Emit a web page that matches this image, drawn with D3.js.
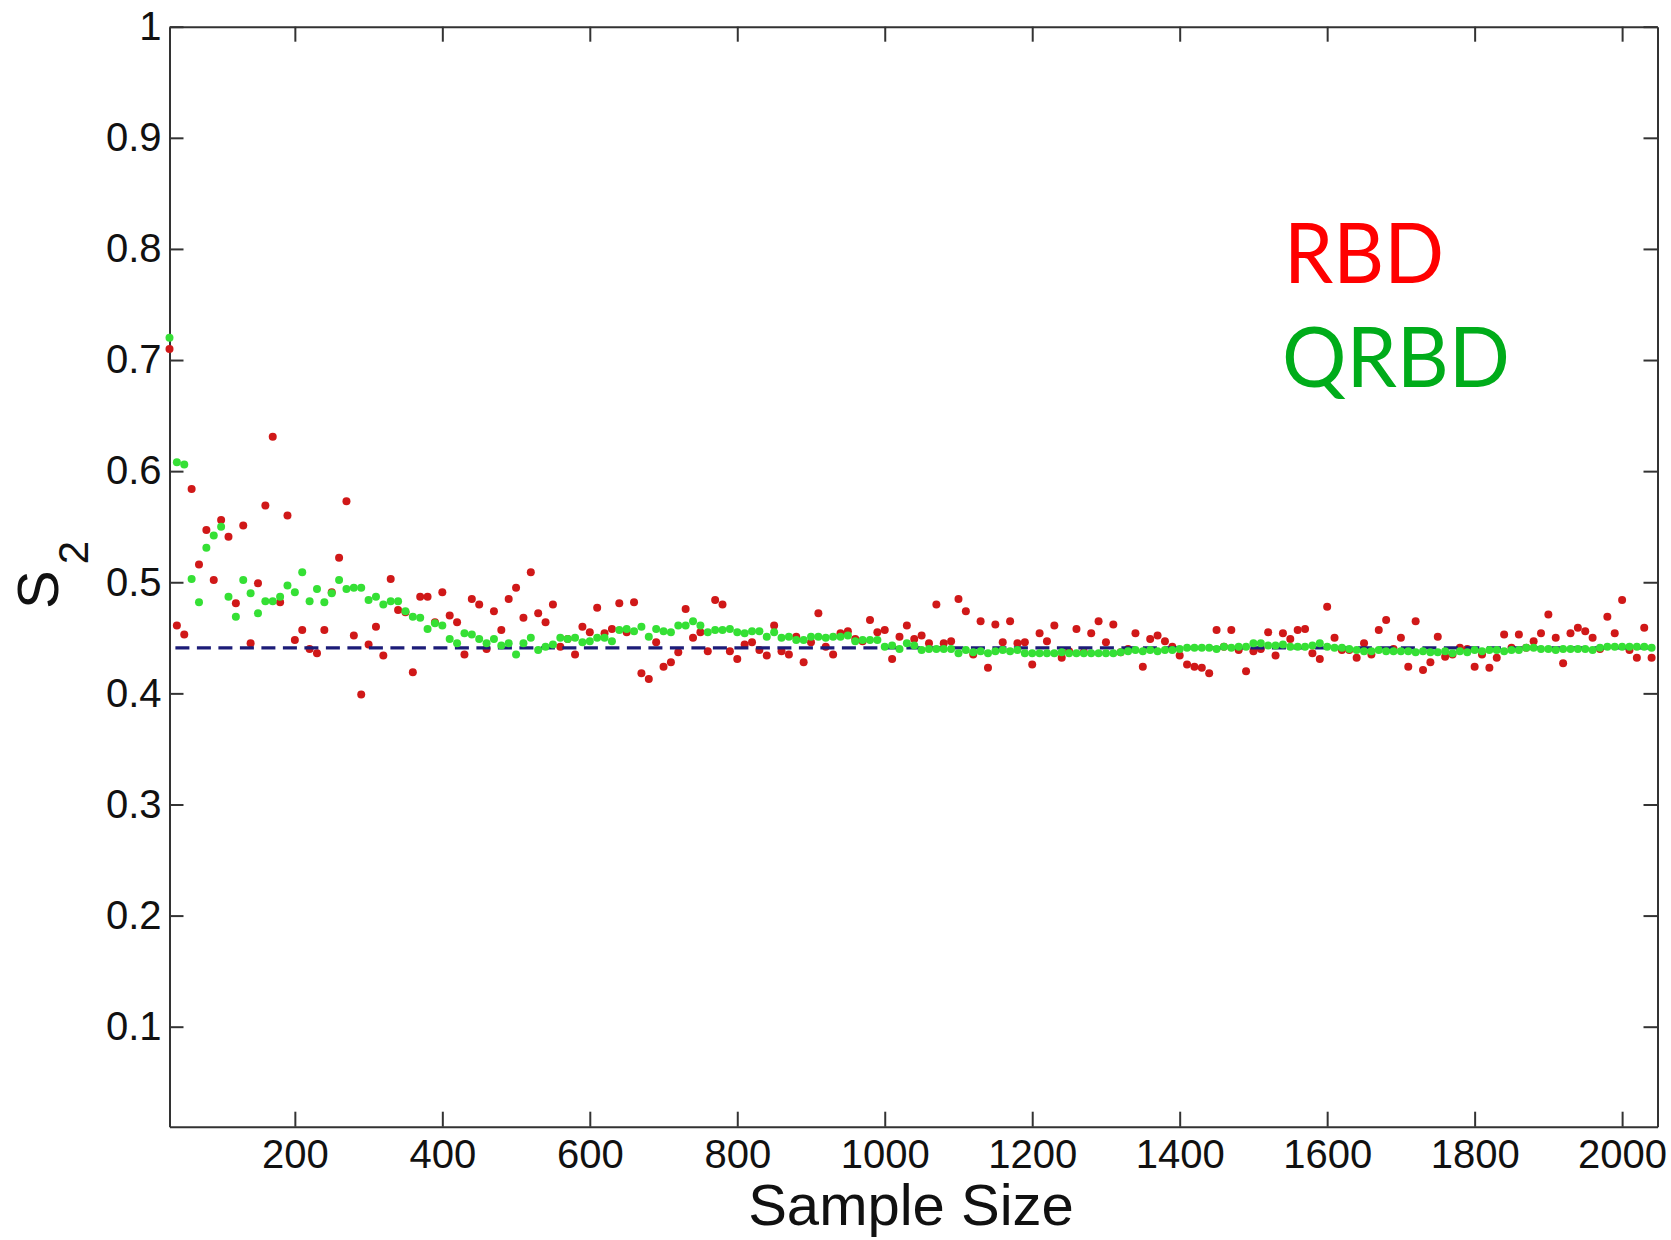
<!DOCTYPE html>
<html>
<head>
<meta charset="utf-8">
<script src="https://cdn.jsdelivr.net/npm/d3@7"></script>
<style>
    body { margin: 0; background: #fff; }
    .axis path, .axis line { stroke: #333; stroke-width: 2; }
    .axis text { font-family: "Liberation Sans", Arial, sans-serif; font-size: 40px; fill: #111; }
    .title { font-family: "Liberation Sans", Arial, sans-serif; fill: #111; }
    .legend { font-family: Lato, "Open Sans", sans-serif; }
</style>
</head>
<body>
<svg id="chart" width="1671" height="1240"></svg>
<script>
// sample sizes on the x axis
const sampleSize = [
    30, 40, 50, 60, 70, 80, 90, 100, 110, 120, 130, 140, 150, 160, 170, 180, 190, 200, 210, 220,
    230, 240, 250, 260, 270, 280, 290, 300, 310, 320, 330, 340, 350, 360, 370, 380, 390, 400, 410, 420,
    430, 440, 450, 460, 470, 480, 490, 500, 510, 520, 530, 540, 550, 560, 570, 580, 590, 600, 610, 620,
    630, 640, 650, 660, 670, 680, 690, 700, 710, 720, 730, 740, 750, 760, 770, 780, 790, 800, 810, 820,
    830, 840, 850, 860, 870, 880, 890, 900, 910, 920, 930, 940, 950, 960, 970, 980, 990, 1000, 1010, 1020,
    1030, 1040, 1050, 1060, 1070, 1080, 1090, 1100, 1110, 1120, 1130, 1140, 1150, 1160, 1170, 1180, 1190, 1200, 1210, 1220,
    1230, 1240, 1250, 1260, 1270, 1280, 1290, 1300, 1310, 1320, 1330, 1340, 1350, 1360, 1370, 1380, 1390, 1400, 1410, 1420,
    1430, 1440, 1450, 1460, 1470, 1480, 1490, 1500, 1510, 1520, 1530, 1540, 1550, 1560, 1570, 1580, 1590, 1600, 1610, 1620,
    1630, 1640, 1650, 1660, 1670, 1680, 1690, 1700, 1710, 1720, 1730, 1740, 1750, 1760, 1770, 1780, 1790, 1800, 1810, 1820,
    1830, 1840, 1850, 1860, 1870, 1880, 1890, 1900, 1910, 1920, 1930, 1940, 1950, 1960, 1970, 1980, 1990, 2000, 2010, 2020,
    2030, 2040
];

// S2 estimates, random balance design (red)
const rbd = [
    0.710, 0.461, 0.453, 0.584, 0.516, 0.547, 0.502, 0.556, 0.541, 0.481,
    0.551, 0.445, 0.499, 0.569, 0.631, 0.482, 0.560, 0.448, 0.457, 0.440,
    0.436, 0.457, 0.491, 0.522, 0.573, 0.452, 0.399, 0.444, 0.460, 0.434,
    0.503, 0.475, 0.473, 0.419, 0.487, 0.487, 0.464, 0.491, 0.470, 0.464,
    0.435, 0.485, 0.480, 0.440, 0.474, 0.457, 0.485, 0.495, 0.468, 0.509,
    0.472, 0.464, 0.480, 0.442, 0.449, 0.435, 0.460, 0.455, 0.477, 0.454,
    0.458, 0.481, 0.455, 0.482, 0.418, 0.413, 0.446, 0.424, 0.428, 0.437,
    0.476, 0.450, 0.455, 0.438, 0.484, 0.480, 0.438, 0.431, 0.444, 0.446,
    0.439, 0.434, 0.461, 0.438, 0.435, 0.451, 0.428, 0.446, 0.472, 0.442,
    0.435, 0.454, 0.456, 0.449, 0.447, 0.466, 0.455, 0.457, 0.431, 0.451,
    0.461, 0.449, 0.452, 0.445, 0.480, 0.445, 0.447, 0.485, 0.474, 0.435,
    0.465, 0.423, 0.462, 0.446, 0.465, 0.445, 0.446, 0.426, 0.454, 0.447,
    0.461, 0.432, 0.438, 0.458, 0.437, 0.454, 0.465, 0.446, 0.462, 0.437,
    0.440, 0.454, 0.424, 0.449, 0.452, 0.447, 0.442, 0.434, 0.426, 0.424,
    0.423, 0.418, 0.457, 0.442, 0.457, 0.439, 0.420, 0.438, 0.440, 0.455,
    0.434, 0.454, 0.449, 0.457, 0.458, 0.436, 0.431, 0.478, 0.450, 0.439,
    0.439, 0.432, 0.445, 0.435, 0.457, 0.466, 0.440, 0.450, 0.424, 0.465,
    0.421, 0.428, 0.451, 0.433, 0.435, 0.441, 0.440, 0.424, 0.435, 0.423,
    0.432, 0.453, 0.441, 0.453, 0.441, 0.447, 0.454, 0.471, 0.450, 0.427,
    0.454, 0.459, 0.456, 0.450, 0.440, 0.469, 0.454, 0.484, 0.439, 0.432,
    0.459, 0.432
];

// S2 estimates, quasi-random balance design (green)
const qrbd = [
    0.720, 0.608, 0.606, 0.503, 0.482, 0.531, 0.542, 0.550, 0.487, 0.469,
    0.502, 0.490, 0.472, 0.483, 0.483, 0.487, 0.497, 0.491, 0.509, 0.483,
    0.494, 0.482, 0.490, 0.502, 0.494, 0.495, 0.495, 0.484, 0.487, 0.480,
    0.483, 0.483, 0.474, 0.469, 0.468, 0.458, 0.463, 0.461, 0.449, 0.445,
    0.454, 0.453, 0.449, 0.445, 0.449, 0.443, 0.445, 0.435, 0.445, 0.450,
    0.439, 0.442, 0.444, 0.450, 0.449, 0.450, 0.446, 0.447, 0.450, 0.450,
    0.447, 0.457, 0.458, 0.456, 0.460, 0.451, 0.458, 0.456, 0.455, 0.461,
    0.461, 0.465, 0.461, 0.455, 0.457, 0.457, 0.458, 0.455, 0.454, 0.456,
    0.456, 0.451, 0.455, 0.450, 0.451, 0.448, 0.448, 0.451, 0.451, 0.450,
    0.451, 0.451, 0.452, 0.447, 0.448, 0.448, 0.448, 0.442, 0.443, 0.440,
    0.445, 0.443, 0.439, 0.440, 0.440, 0.440, 0.440, 0.436, 0.439, 0.437,
    0.438, 0.436, 0.438, 0.439, 0.438, 0.439, 0.436, 0.436, 0.436, 0.436,
    0.436, 0.437, 0.436, 0.436, 0.436, 0.436, 0.436, 0.436, 0.436, 0.437,
    0.438, 0.439, 0.438, 0.439, 0.438, 0.439, 0.439, 0.440, 0.441, 0.441,
    0.441, 0.441, 0.440, 0.442, 0.441, 0.442, 0.442, 0.445, 0.445, 0.443,
    0.443, 0.444, 0.442, 0.442, 0.442, 0.443, 0.445, 0.442, 0.441, 0.441,
    0.440, 0.439, 0.438, 0.438, 0.439, 0.438, 0.438, 0.438, 0.438, 0.437,
    0.438, 0.437, 0.437, 0.438, 0.436, 0.438, 0.437, 0.439, 0.438, 0.439,
    0.439, 0.438, 0.439, 0.439, 0.441, 0.441, 0.440, 0.440, 0.439, 0.440,
    0.440, 0.440, 0.440, 0.439, 0.441, 0.442, 0.442, 0.442, 0.442, 0.442,
    0.442, 0.441
];

// analytic value (dashed line) and the x range it covers
const trueValue = 0.441;
const trueRange = [38, 2048];

const xTicks = [200, 400, 600, 800, 1000, 1200, 1400, 1600, 1800, 2000];
const yTicks = [0.1, 0.2, 0.3, 0.4, 0.5, 0.6, 0.7, 0.8, 0.9, 1];
const legendLabels = ["RBD", "QRBD"];

/** Class drawing the scatter of S2 against sample size. */
class S2Chart {
    constructor() {
        this.margin = { left: 169.5, top: 26.7 };
        this.width = 1488;
        this.height = 1100;
        this.svg = d3.select('#chart');
        this.g = this.svg.append('g')
            .attr('transform', 'translate(' + this.margin.left + ',' + this.margin.top + ')');
        this.x = d3.scaleLinear().domain([30, 2048]).range([0, this.width]);
        this.y = d3.scaleLinear().domain([0.01, 1]).range([this.height, 0]);
    }

    drawAxes() {
        let x = this.x, y = this.y;

        this.g.append('g').attr('class', 'axis')
            .attr('transform', 'translate(0,' + this.height + ')')
            .call(d3.axisBottom(x).tickValues(xTicks).tickFormat(d3.format('d'))
                .tickSizeInner(-15).tickSizeOuter(0).tickPadding(13));

        this.g.append('g').attr('class', 'axis')
            .call(d3.axisTop(x).tickValues(xTicks).tickFormat('')
                .tickSizeInner(-15).tickSizeOuter(0));

        this.g.append('g').attr('class', 'axis')
            .call(d3.axisLeft(y).tickValues(yTicks).tickFormat(d => d === 1 ? '1' : d3.format('.1f')(d))
                .tickSizeInner(-14).tickSizeOuter(0).tickPadding(8));

        this.g.append('g').attr('class', 'axis')
            .attr('transform', 'translate(' + this.width + ',0)')
            .call(d3.axisRight(y).tickValues(yTicks).tickFormat('')
                .tickSizeInner(-14).tickSizeOuter(0));

        this.g.selectAll('.axis .domain').attr('stroke-width', 2.5);
    }

    drawData() {
        let x = this.x, y = this.y;
        let redPts = sampleSize.map((s, i) => ({ s: s, v: rbd[i] }));
        let greenPts = sampleSize.map((s, i) => ({ s: s, v: qrbd[i] }));

        this.g.selectAll('.rbd').data(redPts).enter().append('circle')
            .attr('class', 'rbd')
            .attr('cx', d => x(d.s)).attr('cy', d => y(d.v))
            .attr('r', 4).attr('fill', '#d01818');

        this.g.append('line')
            .attr('x1', x(trueRange[0])).attr('x2', x(trueRange[1]))
            .attr('y1', y(trueValue)).attr('y2', y(trueValue))
            .attr('stroke', '#1c1c78').attr('stroke-width', 3.2)
            .attr('stroke-dasharray', '14,7.5');

        this.g.selectAll('.qrbd').data(greenPts).enter().append('circle')
            .attr('class', 'qrbd')
            .attr('cx', d => x(d.s)).attr('cy', d => y(d.v))
            .attr('r', 4).attr('fill', '#35e035');
    }

    drawLabels() {
        this.svg.append('text').attr('class', 'title')
            .attr('x', 911).attr('y', 1225)
            .attr('text-anchor', 'middle').style('font-size', '58px')
            .text('Sample Size');

        let ylab = this.svg.append('text').attr('class', 'title')
            .attr('transform', 'translate(58,609) rotate(-90)')
            .style('font-size', '58px');
        ylab.append('tspan').text('S');
        ylab.append('tspan').attr('dx', 6).attr('dy', 30).style('font-size', '42px').text('2');

        // legend text placed as in the original figure
        this.svg.append('text').attr('class', 'legend')
            .attr('x', 1284).attr('y', 283)
            .attr('fill', '#ff0000').style('font-size', '84px')
            .attr('textLength', 160).attr('lengthAdjust', 'spacingAndGlyphs')
            .text(legendLabels[0]);
        this.svg.append('text').attr('class', 'legend')
            .attr('x', 1282).attr('y', 387)
            .attr('fill', '#00ac1a').style('font-size', '84px')
            .attr('textLength', 228).attr('lengthAdjust', 'spacingAndGlyphs')
            .text(legendLabels[1]);
    }
}

let chart = new S2Chart();
chart.drawAxes();
chart.drawData();
chart.drawLabels();
</script>
</body>
</html>
